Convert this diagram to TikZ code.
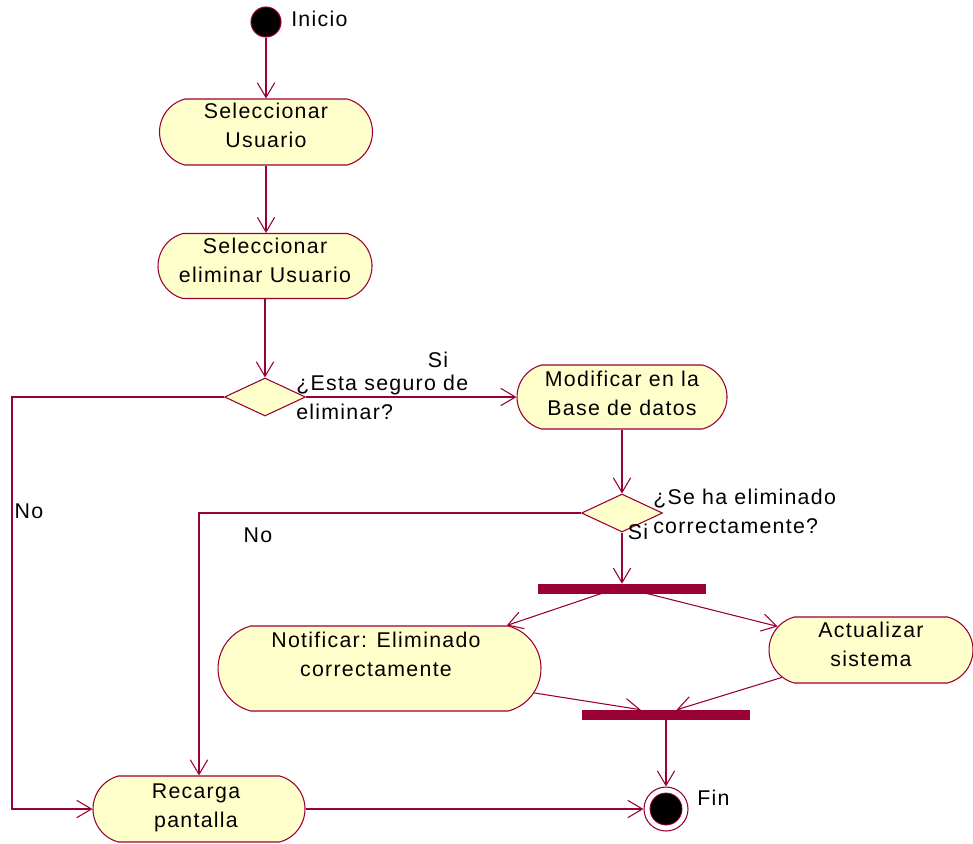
\documentclass[tikz,border=0pt]{standalone}
\usepackage{fontspec}
\setmainfont[LetterSpace=6]{Liberation Sans}
\usetikzlibrary{arrows.meta,shapes.misc,shapes.geometric}
\definecolor{edge}{RGB}{153,0,51}
\definecolor{fillc}{RGB}{255,255,204}
\newcommand{\lbl}{\fontsize{16}{21.75}\selectfont}
\begin{document}
\begin{tikzpicture}[x=0.75pt,y=-0.75pt,
  act/.style={rounded rectangle, rounded rectangle arc length=150, draw=edge, fill=fillc, line width=0.8pt, inner sep=0pt},
  dec/.style={diamond, draw=edge, fill=fillc, line width=0.8pt, inner sep=0pt, minimum width=81*0.75pt, minimum height=38*0.75pt},
  bar/.style={rectangle, draw=edge, fill=edge, inner sep=0pt, minimum width=167*0.75pt, minimum height=9*0.75pt},
  txt/.style={font=\lbl, align=center, inner sep=0pt},
  ltxt/.style={font=\lbl, align=left, inner sep=0pt, anchor=west},
  arr/.style={draw=edge, line width=0.8pt, -{Straight Barb[length=11pt,width=13pt]}}
]
\useasboundingbox (0,0) rectangle (973,843);
% start
\node[circle, draw=edge, fill=black, line width=0.8pt, minimum size=30*0.75pt, inner sep=0pt] (start) at (266,22) {};
\node[ltxt] (linicio) at (291,19) {Inicio};
% activities
\node[act, minimum width=213*0.75pt, minimum height=66*0.75pt] (b1) at (266,132) {};
\node[txt] (tb1) at (266,125) {Seleccionar\\Usuario};
\node[act, minimum width=214*0.75pt, minimum height=65*0.75pt] (b2) at (265,266) {};
\node[txt] (tb2) at (265,260) {Seleccionar\\eliminar Usuario};
\node[dec] (d1) at (265,397) {};
\node[act, minimum width=210*0.75pt, minimum height=64*0.75pt] (b3) at (622,397) {};
\node[txt] (tb3) at (622,393) {Modificar en la\\Base de datos};
\node[dec] (d2) at (622,513) {};
\node[bar] (bar1) at (622,588.5) {};
\node[act, minimum width=323*0.75pt, minimum height=85*0.75pt] (nt) at (379.5,668.5) {};
\node[txt] (tnt) at (376,654) {Notificar: Eliminado\\correctamente};
\node[act, minimum width=204*0.75pt, minimum height=66*0.75pt] (ac) at (871,650) {};
\node[txt] (tac) at (871,644) {Actualizar\\sistema};
\node[bar] (bar2) at (666,714.5) {};
\node[act, minimum width=212*0.75pt, minimum height=66*0.75pt] (rec) at (199,809) {};
\node[txt] (trec) at (196,808) {Recarga\\pantalla};
% end
\node[circle, draw=edge, fill=white, line width=0.8pt, minimum size=44*0.75pt, inner sep=0pt] (fin) at (666,809) {};
\node[circle, draw=edge, fill=black, line width=0.6pt, minimum size=32*0.75pt, inner sep=0pt] (fini) at (666,809) {};
\node[ltxt] (lfin) at (697,798) {Fin};
% labels
\node[txt] (lsi1) at (438,360) {Si};
\node[ltxt] (lq1) at (296,397) {¿Esta seguro de\\eliminar?};
\node[txt] (lno1) at (29,511) {No};
\node[ltxt] (lq2) at (653,511) {¿Se ha eliminado\\correctamente?};
\node[txt] (lno2) at (258,535) {No};
\node[txt] (lsi2) at (638,532) {Si};
% connectors
\coordinate (k1) at (12,809);
\coordinate (k2) at (199,513);
\draw[arr] (start) -- (b1);
\draw[arr] (b1.south) -- (b1.south |- b2.north);
\draw[arr] (b2.south) -- (d1.north);
\draw[arr] (d1.west) -| (k1) -- (rec.west);
\draw[arr] (d1.east) -- (b3.west);
\draw[arr] (b3) -- (d2);
\draw[arr] (d2.west) -- (k2) -- (rec.north);
\draw[arr] (d2.south) -- (bar1.north);
\draw[arr] ([xshift=-15pt]bar1.south) -- (nt);
\draw[arr] ([xshift=18pt]bar1.south) -- (ac);
\draw[arr] (nt) -- ([xshift=-19pt]bar2.north);
\draw[arr] (ac) -- ([xshift=8pt]bar2.north);
\draw[arr] (bar2.south) -- (fin.north);
\draw[arr] (rec.east) -- (fin.west);
\end{tikzpicture}
\end{document}
